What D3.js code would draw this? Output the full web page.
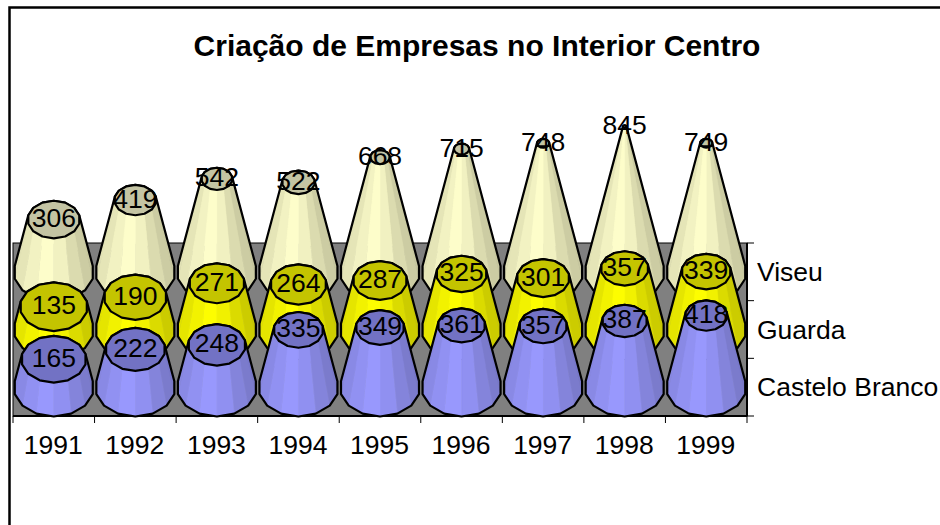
<!DOCTYPE html>
<html><head><meta charset="utf-8">
<script src="https://cdn.jsdelivr.net/npm/d3@7"></script>
<style>html,body{margin:0;padding:0;background:#fff}svg{display:block}text{font-family:"Liberation Sans",Arial,sans-serif;fill:#000}</style>
</head><body><svg id="c" width="940" height="525"></svg>
<script>
const years=["1991","1992","1993","1994","1995","1996","1997","1998","1999"];
const seriesNames=["Viseu","Guarda","Castelo Branco"];
const viseu=[306,419,542,522,668,715,748,845,749];
const guarda=[135,190,271,264,287,325,301,357,339];
const casteloBranco=[165,222,248,335,349,361,357,387,418];
const seriesValues=[viseu,guarda,casteloBranco];
const sideColors=["#FFFFCC","#FFFF00","#9999FF"];
const topColors=["#C4C4A3","#C4C400","#7272C4"];

const svg=d3.select("#c");
const plot={l:13,r:747,t:243,b:416};
const x=d3.scaleBand().domain(years).range([plot.l,plot.r]);
const row=d3.scaleBand().domain(seriesNames).range([plot.t,plot.b]);
const h=d3.scaleLinear().domain([0,870]).range([0,150]);
const rad=d3.scaleLinear().domain([0,870]).range([40,0.6]);
const ratio=0.72;
const shade=d3.scaleLinear().domain([-1,-0.35,0.1,1]).range([0.88,1,0.97,0.78]);
const N=14;

svg.append("rect").attr("x",9.5).attr("y",7.5).attr("width",960).attr("height",600).attr("fill","#fff").attr("stroke","#000").attr("stroke-width",2.5);
svg.append("text").attr("x",477).attr("y",56).attr("text-anchor","middle").attr("font-weight","bold").attr("font-size",30).text("Criação de Empresas no Interior Centro");
svg.append("rect").attr("x",plot.l).attr("y",plot.t).attr("width",plot.r-plot.l).attr("height",plot.b-plot.t).attr("fill","#808080").attr("stroke","#000").attr("stroke-width",1);

const gx=svg.append("g");
gx.append("path").attr("d",`M${plot.l},${plot.b}H${plot.r}`).attr("stroke","#000").attr("stroke-width",2);
const edges=years.map(y=>x(y)).concat([plot.r]);
gx.selectAll("line").data(edges).join("line").attr("x1",d=>d).attr("x2",d=>d).attr("y1",plot.b).attr("y2",plot.b+7).attr("stroke","#000");
gx.selectAll("text").data(years).join("text").attr("x",d=>x(d)+x.bandwidth()/2-0.5).attr("y",454).attr("text-anchor","middle").attr("font-size",26.5).text(d=>d);
const gy=svg.append("g");
gy.append("path").attr("d",`M${plot.r},${plot.t}V${plot.b}`).attr("stroke","#000").attr("stroke-width",2);
const rowEdges=seriesNames.map(s=>row(s)).concat([plot.b]);
gy.selectAll("line").data(rowEdges).join("line").attr("x1",plot.r).attr("x2",plot.r+7).attr("y1",d=>d).attr("y2",d=>d).attr("stroke","#000");
gy.selectAll("text").data(seriesNames).join("text").attr("x",757).attr("y",s=>row(s)+row.bandwidth()/2+9).attr("font-size",26.5).text(s=>s);

const line=d3.line();
seriesNames.forEach((s,si)=>{
  const baseY=row(s)+row.bandwidth()/2+0.5;
  const g=svg.append("g");
  seriesValues[si].forEach((v,i)=>{
    const cx=x(years[i])+x.bandwidth()/2;
    const pts=(r,cy)=>d3.range(N).map(k=>{const a=(k+0.5)/N*2*Math.PI;return [cx+r*Math.cos(a),cy+r*ratio*Math.sin(a)];});
    const rt=rad(v),ty=baseY-h(v);
    const b=pts(40,baseY),t=pts(rt,ty);
    const faces=d3.range(N).map(k=>{const n=(k+1)%N;const am=(k+1)/N*2*Math.PI;return {p:[b[k],b[n],t[n],t[k]],d:Math.sin(am),c:Math.cos(am)};}).sort((p,q)=>p.d-q.d);
    const hull=d3.polygonHull(b.concat(t));
    const c=d3.rgb(sideColors[si]);
    const cone=g.append("g");
    faces.forEach(f=>{
      const k=shade(f.c);
      const col=d3.rgb(c.r*k,c.g*k,c.b*k).formatHex();
      cone.append("path").attr("d",line(f.p)+"Z").attr("fill",col).attr("stroke",col).attr("stroke-width",0.5);
    });
    cone.append("path").attr("d",line(hull)+"Z").attr("fill","none").attr("stroke","#000").attr("stroke-width",2.2).attr("stroke-linejoin","round");
    cone.append("path").attr("d",line(t)+"Z").attr("fill",topColors[si]).attr("stroke","#000").attr("stroke-width",2.2).attr("stroke-linejoin","round");
  });
});
seriesNames.forEach((s,si)=>{
  const baseY=row(s)+row.bandwidth()/2+0.5;
  svg.append("g").selectAll("text").data(seriesValues[si]).join("text")
    .attr("x",(v,i)=>x(years[i])+x.bandwidth()/2)
    .attr("y",v=>baseY-h(v)+7.5)
    .attr("text-anchor","middle").attr("font-size",26.5).text(v=>v);
});
</script></body></html>
